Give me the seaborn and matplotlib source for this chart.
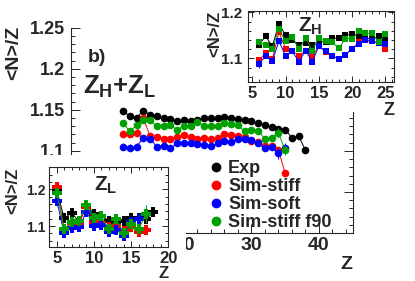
import numpy as np
import matplotlib
matplotlib.use('Agg')
import matplotlib.pyplot as plt
from matplotlib.lines import Line2D
from matplotlib.ticker import MultipleLocator, FormatStrFormatter, FuncFormatter
import seaborn as sns

# ---- data ----
# main panel Z_H + Z_L
z_exp = np.arange(11, 39)
z_sim = np.arange(11, 36)
exp_main = [1.148, 1.143, 1.140, 1.149, 1.144, 1.142, 1.140, 1.139, 1.136, 1.138,
            1.136, 1.137, 1.140, 1.140, 1.140, 1.141, 1.140, 1.139, 1.138, 1.136,
            1.134, 1.131, 1.129, 1.127, 1.126, 1.116, 1.118, 1.101]
stiff_main = [1.121, 1.120, 1.122, 1.140, 1.118, 1.117, 1.115, 1.114, 1.117, 1.119,
              1.117, 1.115, 1.116, 1.114, 1.116, 1.120, 1.119, 1.118, 1.117, 1.112,
              1.111, 1.106, 1.106, 1.101, 1.073]
soft_main = [1.105, 1.104, 1.105, 1.116, 1.115, 1.105, 1.106, 1.103, 1.109, 1.110,
             1.109, 1.108, 1.107, 1.106, 1.109, 1.112, 1.111, 1.115, 1.114, 1.113,
             1.109, 1.103, 1.105, 1.097, 1.104]
f90_main = [1.134, 1.124, 1.131, 1.138, 1.137, 1.130, 1.130, 1.131, 1.126, 1.130,
            1.130, 1.135, 1.130, 1.130, 1.130, 1.134, 1.133, 1.131, 1.124, 1.126,
            1.124, 1.115, 1.116, 1.122, 1.101]

# inset Z_H
z_h = np.arange(6, 26)
exp_h = [1.130, 1.148, 1.126, 1.175, 1.150, 1.140, 1.130, 1.133, 1.130, 1.136,
         1.136, 1.144, 1.144, 1.150, 1.153, 1.148, 1.144, 1.142, 1.148, 1.144]
stiff_h = [1.097, 1.111, 1.098, 1.157, 1.121, 1.117, 1.105, 1.117, 1.102, 1.128,
           1.113, 1.106, 1.098, 1.108, 1.121, 1.135, 1.139, 1.137, 1.135, 1.121]
soft_h = [1.088, 1.106, 1.095, 1.137, 1.106, 1.115, 1.093, 1.117, 1.093, 1.126,
          1.115, 1.105, 1.099, 1.108, 1.121, 1.131, 1.139, 1.137, 1.133, 1.131]
f90_h = [1.135, 1.129, 1.120, 1.164, 1.137, 1.146, 1.120, 1.145, 1.117, 1.145,
         1.137, 1.135, 1.122, 1.143, 1.143, 1.159, 1.155, 1.155, 1.135, 1.153]

# inset Z_L
z_l_exp = np.arange(5, 19)
z_l_stiff = np.arange(5, 18)
z_l_soft = np.arange(5, 17)
z_l_f90 = np.arange(5, 18)
exp_l = [1.198, 1.121, 1.136, 1.112, 1.157, 1.133, 1.127, 1.115, 1.112, 1.114,
         1.121, 1.121, 1.118, 1.139]
stiff_l = [1.207, 1.089, 1.109, 1.107, 1.153, 1.112, 1.109, 1.096, 1.100, 1.087,
           1.098, 1.085, 1.089]
soft_l = [1.169, 1.080, 1.094, 1.096, 1.139, 1.100, 1.103, 1.085, 1.089, 1.074,
          1.112, 1.118]
f90_l = [1.191, 1.091, 1.112, 1.115, 1.157, 1.121, 1.127, 1.091, 1.118, 1.082,
         1.105, 1.091, 1.133]

# error bars that can be seen (everything else is tiny)
err_exp_main = {36: 0.003, 37: 0.003, 38: 0.004}
err_stiff_main = {35: 0.004}
err_soft_main = {11: 0.004, 12: 0.004, 13: 0.004, 34: 0.007, 35: 0.006}
err_f90_main = {34: 0.006, 35: 0.006}
err_stiff_h = {6: 0.006}
err_soft_h = {6: 0.010}
err_f90_h = {6: 0.006}
err_stiff_l = {16: 0.006, 17: 0.010}
err_f90_l = {17: 0.025}

labels = ['Exp', 'Sim-stiff', 'Sim-soft', 'Sim-stiff f90']
colors = ['black', '#ff0000', '#0000ff', '#00a000']

sns.set_style('ticks')
plt.rcParams['font.family'] = ['Liberation Sans', 'DejaVu Sans']
plt.rcParams['font.weight'] = 'bold'
plt.rcParams['mathtext.fontset'] = 'custom'
plt.rcParams['mathtext.rm'] = 'Liberation Sans:bold'
plt.rcParams['mathtext.it'] = 'Liberation Sans:bold'
plt.rcParams['mathtext.bf'] = 'Liberation Sans:bold'

W, H = 415, 281
fig = plt.figure(figsize=(W / 100, H / 100), dpi=100)


def box(x0, y0, x1, y1):
    # pixel box (top-left origin) -> figure fraction
    return [x0 / W, 1 - y1 / H, (x1 - x0) / W, (y1 - y0) / H]


def series(ax, z, y, errs, color, marker, ms, base_err):
    yerr = [errs.get(int(k), base_err) for k in z]
    ax.errorbar(z, y, yerr=yerr, fmt='none', ecolor=color, elinewidth=0.7, capsize=0)
    sns.lineplot(x=z, y=y, ax=ax, color=color, lw=0.7, marker=marker,
                 markersize=ms, markeredgewidth=0, legend=False)


def style(ax, big, small, fs_x, fs_y, major_len, minor_len, right=True, top=True, ypad=4):
    ax.xaxis.set_major_locator(MultipleLocator(big[0]))
    ax.xaxis.set_minor_locator(MultipleLocator(small[0]))
    ax.yaxis.set_major_locator(MultipleLocator(big[1]))
    ax.yaxis.set_minor_locator(MultipleLocator(small[1]))
    ax.yaxis.set_major_formatter(FormatStrFormatter('%g'))
    ax.tick_params(which='both', direction='in', right=right, top=top, width=0.7)
    ax.tick_params(which='major', length=major_len)
    ax.tick_params(which='minor', length=minor_len)
    ax.tick_params(axis='x', labelsize=fs_x, pad=3)
    ax.tick_params(axis='y', labelsize=fs_y, pad=ypad)
    for sp in ax.spines.values():
        sp.set_linewidth(0.8)


def blank_pad(rect):
    pad = fig.add_axes(rect)
    pad.set_xticks([])
    pad.set_yticks([])
    for sp in pad.spines.values():
        sp.set_visible(False)
    return pad


# ---- main panel ----
ax = fig.add_axes(box(71, 27.7, 352.7, 233))
series(ax, z_exp, exp_main, err_exp_main, colors[0], 'o', 5.5, 0.0015)
series(ax, z_sim, stiff_main, err_stiff_main, colors[1], 'o', 5.5, 0.0015)
series(ax, z_sim, soft_main, err_soft_main, colors[2], 'o', 5.5, 0.0015)
series(ax, z_sim, f90_main, err_f90_main, colors[3], 'o', 5.5, 0.0015)
ax.set_xlim(3.3, 45)
ax.set_ylim(1.0, 1.25)
style(ax, (10, 0.05), (2, 0.01), 14, 13, 6.5, 3.2, right=True, top=False)
# labels that sit under the Z_L inset are hidden anyway
ax.yaxis.set_major_formatter(FuncFormatter(lambda v, p: '%g' % round(v, 2) if v > 1.08 else ''))
ax.xaxis.set_major_formatter(FuncFormatter(lambda v, p: '%g' % v if v > 15 else ''))
ax.spines['top'].set_visible(False)
ax.set_xlabel('Z', loc='right', fontsize=14, fontweight='bold')
ax.xaxis.set_label_coords(1.0, -0.11)
ax.set_ylabel('<N>/Z', loc='top', fontsize=14, fontweight='bold')
ax.yaxis.set_label_coords(-0.175, 1.01)
ax.text(0.06, 0.835, 'b)', transform=ax.transAxes, fontsize=14, fontweight='bold')
ax.text(0.043, 0.68, r'$Z_H$+$Z_L$', transform=ax.transAxes, fontsize=18.5)
handles = [Line2D([], [], ls='none', marker='o', color=c, markersize=6) for c in colors]
ax.legend(handles, labels, loc='upper left', bbox_to_anchor=(211 / W, 1 - 160 / H),
          bbox_transform=fig.transFigure, frameon=False,
          handlelength=0.6, handletextpad=0.35, labelspacing=0.06, borderpad=0,
          borderaxespad=0, prop={'weight': 'bold', 'size': 13})

# ---- Z_H inset ----
blank_pad(box(200, 0, 415, 112))
axh = fig.add_axes(box(247.7, 11, 394, 82.3))
series(axh, z_h, exp_h, {}, colors[0], 's', 5, 0.002)
series(axh, z_h, stiff_h, err_stiff_h, colors[1], 's', 5, 0.002)
series(axh, z_h, soft_h, err_soft_h, colors[2], 's', 5, 0.002)
series(axh, z_h, f90_h, err_f90_h, colors[3], 's', 5, 0.002)
axh.set_xlim(4.3, 26.3)
axh.set_ylim(1.048, 1.203)
style(axh, (5, 0.1), (1, 0.02), 12, 11, 4.5, 2.3)
axh.set_xlabel('Z', loc='right', fontsize=13, fontweight='bold')
axh.xaxis.set_label_coords(1.0, -0.27)
axh.set_ylabel('<N>/Z', loc='top', fontsize=12, fontweight='bold')
axh.yaxis.set_label_coords(-0.175, 1.0)
axh.text(0.43, 0.79, r'$Z_H$', transform=axh.transAxes, fontsize=15, ha='center', va='center')

# ---- Z_L inset ----
blank_pad(box(0, 155, 186, 281))
axl = fig.add_axes(box(49.3, 167.3, 168.3, 247.3))
series(axl, z_l_exp, exp_l, {}, colors[0], 'P', 7, 0.003)
series(axl, z_l_stiff, stiff_l, err_stiff_l, colors[1], 'P', 7, 0.003)
series(axl, z_l_soft, soft_l, {}, colors[2], 'P', 7, 0.003)
series(axl, z_l_f90, f90_l, err_f90_l, colors[3], 'P', 7, 0.003)
axl.set_xlim(4, 20)
axl.set_ylim(1.042, 1.26)
style(axl, (5, 0.1), (1, 0.02), 12, 10, 4.5, 2.3, ypad=3)
axl.set_xlabel('Z', loc='right', fontsize=12, fontweight='bold')
axl.xaxis.set_label_coords(1.0, -0.23)
axl.set_ylabel('<N>/Z', loc='top', fontsize=12, fontweight='bold')
axl.yaxis.set_label_coords(-0.24, 1.0)
axl.text(0.47, 0.77, r'$Z_L$', transform=axl.transAxes, fontsize=15, ha='center', va='center')

for a in (ax, axh, axl):
    for lab in a.get_xticklabels() + a.get_yticklabels():
        lab.set_fontweight('bold')

fig.savefig('out.png', dpi=100)
